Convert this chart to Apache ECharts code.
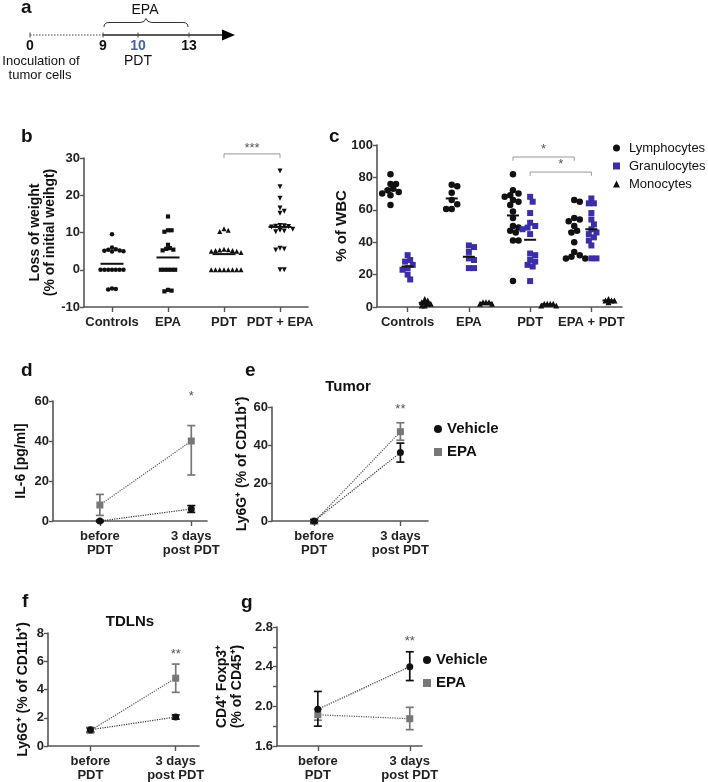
<!DOCTYPE html>
<html><head><meta charset="utf-8">
<script src="https://cdn.jsdelivr.net/npm/echarts@6/dist/echarts.min.js"></script>
<style>html,body{margin:0;padding:0;background:#fff}#c{width:708px;height:782px}</style>
</head><body><div id="c"></div>
<script>
// ================= DATA =================
// panel b : loss of weight (% of initial weight)
const bCategories = ['Controls', 'EPA', 'PDT', 'PDT + EPA'];
const bControls = [9.5, 6.0, 5.5, 5.2, 5.0, 4.9, 5.1, 5.4, 0, 0, 0, 0, 0, 0, 0, -5.0, -5.2, -5.3];
const bEPA = [14.3, 10.6, 10.2, 10.6, 6.7, 5.2, 5.4, 5.6, 5.8, 0, 0, 0, 0, 0, -5.6, -5.8, -5.4];
const bPDT = [11.0, 10.3, 10.6, 5.3, 5.2, 5.0, 4.6, 5.0, 5.2, 5.4, 5.5, 0, 0, 0, 0, 0, 0, 0, 0];
const bPDTEPA = [26.5, 22.3, 19.2, 16.6, 15.7, 15.2, 11.8, 11.6, 11.5, 11.7, 11.9, 10.6, 10.2, 10.4, 10.9, 5.8, 5.3, 5.6, 0, 0];
const bMeans = [1.6, 3.3, 4.2, 11.5];

// panel c : % of WBC
const cCategories = ['Controls', 'EPA', 'PDT', 'EPA + PDT'];
const cLymph = [
  [82, 76, 76, 73, 72, 71, 70, 69, 63],
  [75.5, 74.5, 70.5, 66, 63.5, 60.5, 60.5],
  [82, 72, 70, 69, 68, 66, 65, 63, 59, 55, 50, 49, 47, 46, 41, 41, 16],
  [66, 65, 55, 54, 53, 50, 47, 46, 40, 34, 32, 31, 30, 30]
];
const cGran = [
  [32, 29, 28, 26, 24, 23, 20, 17],
  [38, 37, 34, 30, 29, 24, 24],
  [68, 65, 58, 52, 50, 49, 48, 45, 33, 32, 29, 28, 26, 25, 16],
  [67, 64, 64, 58, 54, 51, 48, 46, 45, 43, 41, 38, 30, 30]
];
const cMono = [
  [5, 4, 3, 3, 2, 2, 1, 1],
  [3, 3, 3, 2, 2],
  [2, 2, 2, 1, 1, 2],
  [5, 4, 4, 4, 3]
];
const cLymphMeans = [72.5, 67, 56.5, 46.5];
const cGranMeans = [25, 31, 41.5, 48];
const cMonoMeans = [2.6, 2.6, 1.7, 4];

// panels d-g : before PDT / 3 days post PDT  (mean, lower end, upper end of error bar)
const timeLabels = ['before\nPDT', '3 days\npost PDT'];
const dVehicle = [0, 6];       const dVehicleLo = [-0.4, 4.3];  const dVehicleHi = [0.4, 7.7];
const dEPA = [8, 40];          const dEPALo = [2.8, 23];        const dEPAHi = [13.3, 47.7];
const eVehicle = [0, 36];      const eVehicleLo = [-0.8, 31];   const eVehicleHi = [0.8, 41];
const eEPA = [-0.5, 47];       const eEPALo = [-1.5, 42.5];     const eEPAHi = [0.5, 51.7];
const fVehicle = [1.15, 2.05]; const fVehicleLo = [1.0, 1.9];   const fVehicleHi = [1.3, 2.2];
const fEPA = [1.1, 4.8];       const fEPALo = [0.95, 3.8];      const fEPAHi = [1.25, 5.8];
const gVehicle = [1.97, 2.40]; const gVehicleLo = [1.80, 2.26]; const gVehicleHi = [2.15, 2.55];
const gEPA = [1.915, 1.875];   const gEPALo = [1.86, 1.765];    const gEPAHi = [1.97, 1.99];

// ================= HELPERS =================
const FONT = "'Liberation Sans', Arial, Helvetica, sans-serif";
const BLUE = '#3a2fa8';
const GRAY = '#777';
const BLACK = '#111';
const AXIS = '#555';

function swarm(vals, center, pxX, pxY, size, pack) {
  const d = size * (pack || 0.95);
  const idx = vals.map((v, i) => i).sort((a, b) => vals[b] - vals[a]);
  const placed = [], res = [];
  idx.forEach(i => {
    const py = vals[i] * pxY;
    let off = 0;
    for (let k = 0; k < 80; k++) {
      const cand = (k === 0 ? 0 : (k % 2 ? 1 : -1) * Math.ceil(k / 2)) * d * 0.5;
      if (placed.every(p => Math.hypot(p[0] - cand, p[1] - py) >= d)) { off = cand; break; }
    }
    placed.push([off, py]);
    res.push([center + off / pxX, vals[i]]);
  });
  return res;
}
function meanRender(halfPx, color, width) {
  return (params, api) => {
    const p = api.coord([api.value(0), api.value(1)]);
    return { type: 'line', shape: { x1: p[0] - halfPx, y1: p[1], x2: p[0] + halfPx, y2: p[1] },
      style: { stroke: color, lineWidth: width } };
  };
}
function bracketRender(labels) {
  return (params, api) => {
    const x1 = api.value(0), x2 = api.value(1), yt = api.value(2), yb = api.value(3), ytx = api.value(4);
    const a = api.coord([x1, yb]), b = api.coord([x1, yt]), c = api.coord([x2, yt]), d = api.coord([x2, yb]);
    const t = api.coord([(x1 + x2) / 2, ytx]);
    return { type: 'group', children: [
      { type: 'polyline', shape: { points: [a, b, c, d] }, style: { stroke: '#999', lineWidth: 1, fill: null } },
      { type: 'text', x: t[0], y: t[1], style: { text: labels[params.dataIndex], fill: '#555', font: '13px ' + FONT, align: 'center', verticalAlign: 'middle' } }
    ] };
  };
}
function textRender(labels) {
  return (params, api) => {
    const t = api.coord([api.value(0), api.value(1)]);
    return { type: 'text', x: t[0], y: t[1], style: { text: labels[params.dataIndex], fill: '#555', font: '13px ' + FONT, align: 'center', verticalAlign: 'middle' } };
  };
}
function errRender(color, cap) {
  return (params, api) => {
    const x = api.value(0), lo = api.value(1), hi = api.value(2);
    const a = api.coord([x, lo]), b = api.coord([x, hi]);
    const st = { stroke: color, lineWidth: 1.7 };
    return { type: 'group', children: [
      { type: 'line', shape: { x1: a[0], y1: a[1], x2: b[0], y2: b[1] }, style: st },
      { type: 'line', shape: { x1: a[0] - cap, y1: a[1], x2: a[0] + cap, y2: a[1] }, style: st },
      { type: 'line', shape: { x1: b[0] - cap, y1: b[1], x2: b[0] + cap, y2: b[1] }, style: st }
    ] };
  };
}
const errData = (lo, hi) => lo.map((v, i) => [i, v, hi[i]]);
const pts = m => m.map((v, i) => [i, v]);

// ================= GRIDS / AXES =================
const grids = [
  { left: 84, top: 158, width: 224, height: 149 },   // b
  { left: 377, top: 145, width: 245, height: 162 },  // c
  { left: 53, top: 401, width: 154, height: 120 },   // d
  { left: 272, top: 407, width: 156, height: 114 },  // e
  { left: 48, top: 633, width: 151, height: 113 },   // f
  { left: 277, top: 627, width: 145, height: 119 }   // g
];
const axLine = () => ({ show: true, onZero: false, lineStyle: { color: AXIS, width: 1.6 } });
const tickLbl = { color: '#222', fontFamily: FONT, fontWeight: 'bold', fontSize: 13 };

function catX(grid, cats, min, max) {
  const vals = cats.map((c, i) => i);
  return { gridIndex: grid, type: 'value', min, max,
    axisLine: axLine(), splitLine: { show: false },
    axisTick: { show: true, length: 5, lineStyle: { color: AXIS, width: 1.4 }, customValues: vals },
    axisLabel: Object.assign({}, tickLbl, { margin: 8, lineHeight: 14, customValues: vals, formatter: v => cats[Math.round(v)] }) };
}
function valY(grid, min, max, interval, name, nameGap, labelVals, dec) {
  const ax = { gridIndex: grid, type: 'value', min, max, interval,
    axisLine: axLine(), splitLine: { show: false },
    axisTick: { show: true, length: 4, lineStyle: { color: AXIS, width: 1.4 } },
    axisLabel: Object.assign({}, tickLbl, { margin: 4, formatter: v => dec ? v.toFixed(dec) : String(Math.round(v)) }),
    name, nameLocation: 'middle', nameRotate: 90, nameGap, nameMoveOverlap: false,
    nameTextStyle: { color: '#111', fontFamily: FONT, fontWeight: 'bold', fontSize: 14, lineHeight: 15 } };
  if (labelVals) ax.axisLabel.customValues = labelVals;
  return ax;
}

const xAxes = [
  catX(0, bCategories, -0.5, 3.5),
  catX(1, cCategories, -0.5, 3.5),
  catX(2, timeLabels, -0.513, 1.172),
  catX(3, timeLabels, -0.488, 1.32),
  catX(4, timeLabels, -0.497, 1.273),
  catX(5, timeLabels, -0.444, 1.133)
];
const yAxes = [
  valY(0, -10, 30, 10, 'Loss of weight\n(% of initial weihgt)', 26),
  valY(1, 0, 100, 20, '% of WBC', 28),
  valY(2, 0, 60, 20, 'IL-6 [pg/ml]', 24),
  valY(3, 0, 60, 20, 'Ly6G⁺ (% of CD11b⁺)', 22),
  valY(4, 0, 8, 2, 'Ly6G⁺ (% of CD11b⁺)', 17),
  valY(5, 1.6, 2.8, 0.2, 'CD4⁺ Foxp3⁺\n(% of CD45⁺)', 32, [1.6, 2.0, 2.4, 2.8], 1)
];
yAxes[1].nameTextStyle.fontSize = 15;

// ================= SERIES =================
const series = [];
// ---- panel b ----
const bPxX = 224 / 4, bPxY = 149 / 40;
const bGroups = [bControls, bEPA, bPDT, bPDTEPA];
const bSymbols = ['circle', 'rect', 'triangle', 'triangle'];
const bSizes = [4.5, 4.2, 5, 5];
bGroups.forEach((g, i) => {
  series.push({ name: bCategories[i] + ' (b)', type: 'scatter', xAxisIndex: 0, yAxisIndex: 0,
    symbol: bSymbols[i], symbolSize: bSizes[i], symbolRotate: i === 3 ? 180 : 0,
    itemStyle: { color: BLACK, opacity: 1 }, data: swarm(g, i, bPxX, bPxY, bSizes[i], 0.85) });
});
series.push({ type: 'custom', name: 'b means', xAxisIndex: 0, yAxisIndex: 0, renderItem: meanRender(11.5, BLACK, 2),
  encode: { x: 0, y: 1 }, data: bMeans.map((m, i) => [i, m]), z: 3 });
series.push({ type: 'custom', name: 'b sig', xAxisIndex: 0, yAxisIndex: 0, renderItem: bracketRender(['***']),
  encode: { x: [0, 1], y: [2, 3, 4] }, data: [[2, 3, 31.1, 30.0, 32.7]], clip: false });

// ---- panel c ----
const cPxX = 245 / 4, cPxY = 162 / 100;
const cOff = 0.28;
const cSets = [
  { name: 'Lymphocytes', vals: cLymph, means: cLymphMeans, off: -cOff, symbol: 'circle', size: 6.5, color: BLACK, pack: 0.85 },
  { name: 'Granulocytes', vals: cGran, means: cGranMeans, off: 0, symbol: 'rect', size: 6, color: BLUE, pack: 0.85 },
  { name: 'Monocytes', vals: cMono, means: cMonoMeans, off: cOff, symbol: 'triangle', size: 6, color: BLACK, pack: 0.5 }
];
cSets.forEach(s => {
  let data = [];
  s.vals.forEach((g, i) => { data = data.concat(swarm(g, i + s.off, cPxX, cPxY, s.size, s.pack)); });
  series.push({ name: s.name, type: 'scatter', xAxisIndex: 1, yAxisIndex: 1, symbol: s.symbol, symbolSize: s.size,
    itemStyle: { color: s.color, opacity: 1 }, data });
  series.push({ type: 'custom', name: s.name + ' mean', xAxisIndex: 1, yAxisIndex: 1, renderItem: meanRender(6, BLACK, 2),
    encode: { x: 0, y: 1 }, data: s.means.map((m, i) => [i + s.off, m]), z: 3 });
});
series.push({ type: 'custom', name: 'c sig', xAxisIndex: 1, yAxisIndex: 1, renderItem: bracketRender(['*', '*']),
  encode: { x: [0, 1], y: [2, 3, 4] }, data: [[2 - cOff, 3 - cOff, 92.6, 90.3, 97.2], [2, 3, 83.3, 81.0, 87.8]], clip: false });

// ---- panels d-g ----
const lineSets = [
  { ax: 2, v: dVehicle, vl: dVehicleLo, vh: dVehicleHi, e: dEPA, el: dEPALo, eh: dEPAHi, sig: [[1, 62.5]], sigT: ['*'] },
  { ax: 3, v: eVehicle, vl: eVehicleLo, vh: eVehicleHi, e: eEPA, el: eEPALo, eh: eEPAHi, sig: [[1, 58.8]], sigT: ['**'] },
  { ax: 4, v: fVehicle, vl: fVehicleLo, vh: fVehicleHi, e: fEPA, el: fEPALo, eh: fEPAHi, sig: [[1, 6.5]], sigT: ['**'] },
  { ax: 5, v: gVehicle, vl: gVehicleLo, vh: gVehicleHi, e: gEPA, el: gEPALo, eh: gEPAHi, sig: [[1, 2.65]], sigT: ['**'] }
];
lineSets.forEach(s => {
  const common = { xAxisIndex: s.ax, yAxisIndex: s.ax };
  series.push(Object.assign({ type: 'line', name: 'EPA trend', data: pts(s.e), showSymbol: false, silent: true,
    lineStyle: { color: '#555', width: 1.2, type: 'dotted' }, z: 1 }, common));
  series.push(Object.assign({ type: 'line', name: 'Vehicle trend', data: pts(s.v), showSymbol: false, silent: true,
    lineStyle: { color: '#333', width: 1.2, type: 'dotted' }, z: 1 }, common));
  series.push(Object.assign({ type: 'custom', name: 'EPA err', renderItem: errRender(GRAY, 4), encode: { x: 0, y: [1, 2] }, data: errData(s.el, s.eh), z: 2 }, common));
  series.push(Object.assign({ type: 'custom', name: 'Vehicle err', renderItem: errRender(BLACK, 4), encode: { x: 0, y: [1, 2] }, data: errData(s.vl, s.vh), z: 2 }, common));
  series.push(Object.assign({ type: 'scatter', name: 'EPA', symbol: 'rect', symbolSize: 7, itemStyle: { color: GRAY, opacity: 1 }, data: pts(s.e), z: 3 }, common));
  series.push(Object.assign({ type: 'scatter', name: 'Vehicle', symbol: 'circle', symbolSize: 7, itemStyle: { color: BLACK, opacity: 1 }, data: pts(s.v), z: 4 }, common));
  series.push(Object.assign({ type: 'custom', name: 'sig', renderItem: textRender(s.sigT), encode: { x: 0, y: 1 }, data: s.sig, clip: false }, common));
});

// ================= GRAPHIC (panel letters, titles, schematic a) =================
const letter = (t, x, y) => ({ type: 'text', x, y, style: { text: t, font: 'bold 19px ' + FONT, fill: '#111', verticalAlign: 'middle' } });
const txt = (t, x, y, opts) => ({ type: 'text', x, y, style: Object.assign({ text: t, font: '13px ' + FONT, fill: '#111', align: 'center', verticalAlign: 'middle' }, opts || {}) });
const ln = (x1, y1, x2, y2, stroke, w) => ({ type: 'line', shape: { x1, y1, x2, y2 }, style: { stroke: stroke || '#333', lineWidth: w || 1 } });
const qc = (x1, y1, cx, cy, x2, y2) => ({ type: 'bezierCurve', shape: { x1, y1, cpx1: cx, cpy1: cy, x2, y2 }, style: { stroke: '#333', lineWidth: 1, fill: null } });
const graphic = [
  letter('a', 21, 8), letter('b', 21, 137), letter('c', 329, 137), letter('d', 21, 371),
  letter('e', 245, 371), letter('f', 22, 602), letter('g', 241, 603),
  txt('Tumor', 348, 387, { font: 'bold 15px ' + FONT }),
  txt('TDLNs', 130, 622, { font: 'bold 15px ' + FONT }),
  // schematic timeline (panel a)
  { type: 'line', shape: { x1: 30, y1: 35, x2: 103, y2: 35 }, style: { stroke: '#444', lineWidth: 1.2, lineDash: [1.5, 1.5] } },
  ln(103, 35, 224, 35, '#222', 1.3),
  { type: 'polygon', shape: { points: [[222, 29.5], [235, 35], [222, 40.5]] }, style: { fill: '#000' } },
  ln(30, 32.5, 30, 37.5, '#444'), ln(103, 32.5, 103, 37.5, '#444'), ln(138, 32.5, 138, 37.5, '#444'), ln(189, 32.5, 189, 37.5, '#444'),
  qc(104, 27, 104, 22.5, 109, 22.5), ln(109, 22.5, 140, 22.5), qc(140, 22.5, 145, 22.5, 146, 18.5),
  qc(146, 18.5, 147, 22.5, 152, 22.5), ln(152, 22.5, 183, 22.5), qc(183, 22.5, 188, 22.5, 188, 27),
  txt('EPA', 145, 10, { font: '14px ' + FONT }),
  txt('0', 30, 46, { font: 'bold 14px ' + FONT }),
  txt('9', 103, 46, { font: 'bold 14px ' + FONT }),
  txt('10', 138, 46, { font: 'bold 14px ' + FONT, fill: '#4a64a0' }),
  txt('13', 189, 46, { font: 'bold 14px ' + FONT }),
  txt('PDT', 138, 61, { font: '14px ' + FONT }),
  txt('Inoculation of', 41, 61),
  txt('tumor cells', 40, 75)
];

// ================= LEGENDS =================
const legends = [
  { left: 613, top: 140, padding: 0, orient: 'vertical', itemGap: 2, itemWidth: 7, itemHeight: 7,
    data: [{ name: 'Lymphocytes', icon: 'circle' }, { name: 'Granulocytes', icon: 'rect' }, { name: 'Monocytes', icon: 'triangle' }],
    textStyle: { fontFamily: FONT, fontSize: 13, color: '#111', lineHeight: 16, padding: [0, 0, 0, 4] } },
  { left: 434, top: 421, padding: 0, orient: 'vertical', itemGap: 7, itemWidth: 8, itemHeight: 8,
    data: [{ name: 'Vehicle', icon: 'circle' }, { name: 'EPA', icon: 'rect' }],
    textStyle: { fontFamily: FONT, fontSize: 15, fontWeight: 'bold', color: '#111', lineHeight: 16 } },
  { left: 423, top: 652, padding: 0, orient: 'vertical', itemGap: 7, itemWidth: 8, itemHeight: 8,
    data: [{ name: 'Vehicle', icon: 'circle' }, { name: 'EPA', icon: 'rect' }],
    textStyle: { fontFamily: FONT, fontSize: 15, fontWeight: 'bold', color: '#111', lineHeight: 16 } }
];

const chart = echarts.init(document.getElementById('c'), null, { renderer: 'canvas' });
chart.setOption({
  animation: false,
  backgroundColor: '#fff',
  textStyle: { fontFamily: FONT },
  grid: grids, xAxis: xAxes, yAxis: yAxes, series, legend: legends, graphic
});
</script></body></html>
